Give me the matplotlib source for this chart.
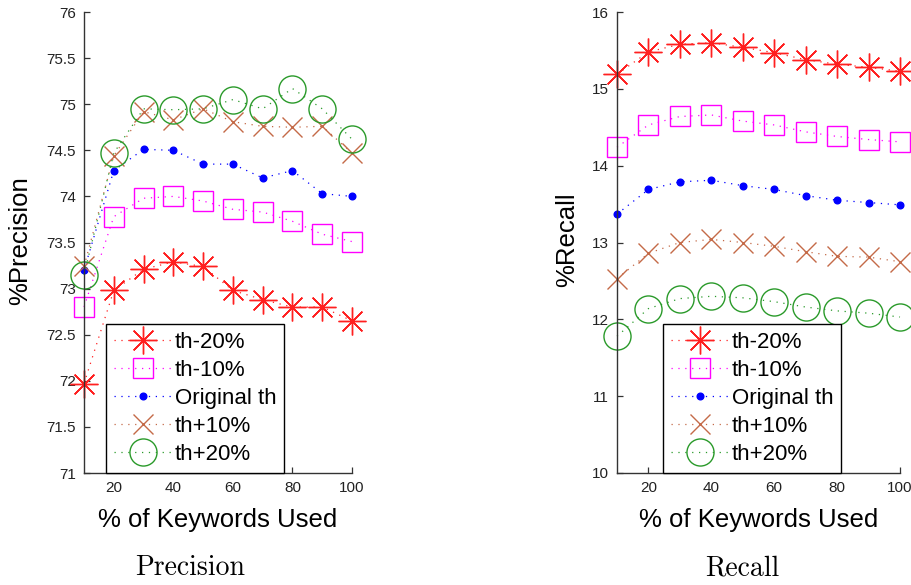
import matplotlib
matplotlib.use("Agg")
import matplotlib.pyplot as plt

# keyword share (%) on the x axis
keywords_used = [10, 20, 30, 40, 50, 60, 70, 80, 90, 100]
series_names = ["th-20%", "th-10%", "Original th", "th+10%", "th+20%"]

# precision values
prec_th_m20 = [71.97, 72.98, 73.21, 73.29, 73.24, 72.98, 72.88, 72.80, 72.80, 72.65]
prec_th_m10 = [72.80, 73.78, 73.98, 74.00, 73.95, 73.86, 73.83, 73.73, 73.59, 73.51]
prec_orig = [73.20, 74.28, 74.51, 74.50, 74.35, 74.35, 74.20, 74.28, 74.03, 74.00]
prec_th_p10 = [73.24, 74.44, 74.92, 74.83, 74.95, 74.81, 74.76, 74.75, 74.76, 74.47]
prec_th_p20 = [73.15, 74.47, 74.95, 74.94, 74.95, 75.05, 74.95, 75.17, 74.95, 74.62]

# recall values
rec_th_m20 = [15.19, 15.48, 15.58, 15.60, 15.54, 15.47, 15.38, 15.32, 15.28, 15.23]
rec_th_m10 = [14.24, 14.53, 14.64, 14.66, 14.58, 14.53, 14.44, 14.38, 14.34, 14.31]
rec_orig = [13.37, 13.69, 13.79, 13.81, 13.74, 13.69, 13.61, 13.55, 13.52, 13.49]
rec_th_p10 = [12.53, 12.86, 13.00, 13.04, 13.00, 12.95, 12.88, 12.82, 12.81, 12.75]
rec_th_p20 = [11.78, 12.14, 12.27, 12.30, 12.28, 12.23, 12.16, 12.11, 12.08, 12.03]

prec_ticks = [71, 71.5, 72, 72.5, 73, 73.5, 74, 74.5, 75, 75.5, 76]
rec_ticks = [10, 11, 12, 13, 14, 15, 16]
x_ticks = [20, 40, 60, 80, 100]

SANS = "Liberation Sans"
dotted = (0, (1, 4.5))

# marker style for each series: (marker, size, colour, filled)
styles = [
    ((8, 2, 0), 20, "#ff2020", False),
    ("s", 15, "#ff00ff", False),
    ("o", 4.8, "#0000ff", True),
    ("x", 14.5, "#c46a48", False),
    ("o", 19.5, "#2a9a2a", False),
]


def draw_panel(ax, series, yticks, ylim, legend_x):
    for name, vals, (mk, ms, col, filled) in zip(series_names, series, styles):
        ax.plot(keywords_used, vals, linestyle=dotted, linewidth=0.9, color=col,
                marker=mk, markersize=ms, markeredgewidth=1.0,
                markerfacecolor=col if filled else "none", markeredgecolor=col,
                clip_on=False, label=name)
    ax.set_xlim(10, 100)
    ax.set_ylim(*ylim)
    ax.set_xticks(x_ticks)
    ax.set_yticks(yticks)
    ax.set_yticklabels([f"{t:g}" for t in yticks])
    for s in ["top", "right"]:
        ax.spines[s].set_visible(False)
    for s in ["left", "bottom"]:
        ax.spines[s].set_color("#333333")
        ax.spines[s].set_linewidth(1.0)
    ax.tick_params(direction="in", length=4, width=0.9, color="#333333",
                   labelsize=11, labelcolor="#222222", pad=6)
    for lab in ax.get_xticklabels() + ax.get_yticklabels():
        lab.set_fontfamily(SANS)
    ax.set_xlabel("% of Keywords Used", fontsize=18.5, fontfamily=SANS, labelpad=9)
    leg = ax.legend(loc="lower left", bbox_to_anchor=(legend_x, 0), borderaxespad=0,
                    fancybox=False, framealpha=1, edgecolor="black", numpoints=1,
                    handlelength=2.6, handletextpad=0.15, labelspacing=0.32,
                    borderpad=0.35, prop={"family": SANS, "size": 16})
    leg.get_frame().set_linewidth(1.0)
    leg.set_zorder(5)


fig = plt.figure(figsize=(9.11, 5.85), dpi=100)
H = 585
ax1 = fig.add_axes([84 / 911, (H - 473) / H, 268 / 911, 461 / H])
ax2 = fig.add_axes([617 / 911, (H - 473) / H, 283 / 911, 461 / H])

draw_panel(ax1, [prec_th_m20, prec_th_m10, prec_orig, prec_th_p10, prec_th_p20],
           prec_ticks, (71, 76), 0.082)
draw_panel(ax2, [rec_th_m20, rec_th_m10, rec_orig, rec_th_p10, rec_th_p20],
           rec_ticks, (10, 16), 0.1625)

fig.text(20 / 911, 1 - 241 / H, "%Precision", rotation=90, ha="center", va="center",
         fontsize=18.5, fontfamily=SANS)
fig.text(567 / 911, 1 - 240 / H, "%Recall", rotation=90, ha="center", va="center",
         fontsize=18.5, fontfamily=SANS)

fig.text(190 / 911, 1 - 568 / H, "Precision", ha="center", va="center",
         fontsize=20, fontfamily="cmr10")
fig.text(742 / 911, 1 - 568 / H, "Recall", ha="center", va="center",
         fontsize=20, fontfamily="cmr10")

fig.savefig("out.png", dpi=100)
